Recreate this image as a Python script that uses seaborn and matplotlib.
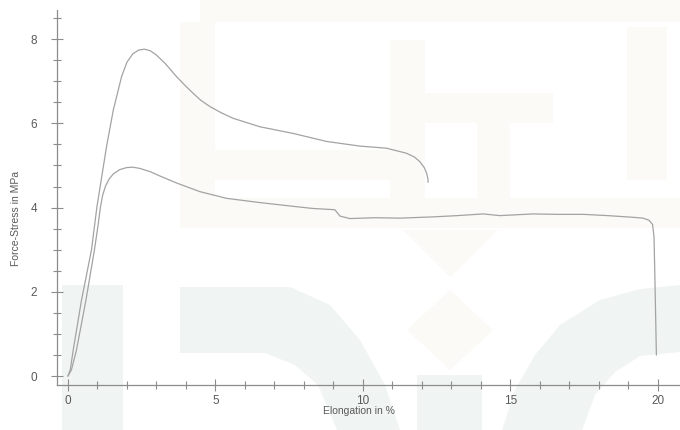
import matplotlib
matplotlib.use("Agg")
import matplotlib.pyplot as plt
from matplotlib.patches import Polygon
from matplotlib.ticker import MultipleLocator
import seaborn as sns
import pandas as pd

# Tensile test results: elongation (%) vs. force-stress (MPa) for two specimens
elong_a = [0, 0.08, 0.18, 0.46, 0.80, 0.98, 1.15, 1.31, 1.54, 1.82, 2.00, 2.20,
           2.40, 2.60, 2.80, 3.00, 3.30, 3.68, 4.00, 4.25, 4.50, 4.81, 5.20,
           5.60, 6.50, 7.64, 8.77, 9.90, 10.80, 11.48, 11.75, 11.93, 12.08,
           12.16, 12.20, 12.21]
stress_a = [0, 0.15, 0.62, 1.80, 3.00, 4.00, 4.75, 5.45, 6.32, 7.11, 7.45, 7.65,
            7.74, 7.76, 7.72, 7.62, 7.42, 7.11, 6.88, 6.71, 6.55, 6.40, 6.25,
            6.12, 5.92, 5.76, 5.57, 5.46, 5.41, 5.29, 5.20, 5.09, 4.95,
            4.82, 4.70, 4.60]

elong_b = [0, 0.12, 0.29, 0.61, 0.90, 1.03, 1.10, 1.18, 1.28, 1.40, 1.54, 1.75,
           1.99, 2.20, 2.44, 2.80, 3.12, 3.70, 4.47, 5.38, 6.50, 7.64, 8.30,
           9.05, 9.22, 9.56, 10.40, 11.25, 12.38, 13.20, 14.08, 14.64, 15.77,
           16.60, 17.47, 18.30, 19.16, 19.50, 19.70, 19.82, 19.87, 19.90, 19.95]
stress_b = [0, 0.15, 0.62, 1.80, 3.00, 3.62, 4.00, 4.30, 4.52, 4.68, 4.80, 4.90,
            4.95, 4.96, 4.93, 4.85, 4.75, 4.58, 4.38, 4.22, 4.12, 4.03, 3.98,
            3.95, 3.80, 3.74, 3.76, 3.75, 3.78, 3.81, 3.85, 3.81, 3.85,
            3.84, 3.84, 3.81, 3.77, 3.75, 3.70, 3.60, 3.30, 2.30, 0.50]

specimens = ["A", "B"]

x_label = "Elongation in %"
y_label = "Force-Stress in MPa"

df = pd.concat([
    pd.DataFrame({"elong": elong_a, "stress": stress_a, "specimen": specimens[0]}),
    pd.DataFrame({"elong": elong_b, "stress": stress_b, "specimen": specimens[1]}),
], ignore_index=True)

sns.set_theme(style="ticks")
plt.rcParams["font.family"] = ["Liberation Sans", "DejaVu Sans"]

W, H = 680, 430
fig = plt.figure(figsize=(W / 100, H / 100), dpi=100)
fig.patch.set_facecolor("white")

# faint background emblem (page watermark), in pixel coordinates from top-left
def px(points):
    return [(x / W, 1 - y / H) for x, y in points]

teal = "#f0f4f3"
beige = "#fbfaf7"
emblem = [
    (teal, [(62, 285), (123, 285), (123, 430), (62, 430)]),
    (teal, [(180, 287), (290, 287), (330, 305), (360, 340), (385, 385), (400, 430),
            (337, 430), (318, 385), (295, 365), (265, 353), (180, 353)]),
    (teal, [(417, 375), (482, 375), (482, 430), (417, 430)]),
    (teal, [(502, 430), (515, 390), (535, 355), (560, 325), (600, 300), (640, 289),
            (680, 285), (680, 352), (640, 356), (615, 372), (595, 395), (582, 430)]),
    (beige, [(180, 198), (680, 198), (680, 228), (180, 228)]),
    (beige, [(180, 22), (215, 22), (215, 198), (180, 198)]),
    (beige, [(215, 150), (420, 150), (420, 180), (215, 180)]),
    (beige, [(390, 40), (425, 40), (425, 198), (390, 198)]),
    (beige, [(425, 93), (553, 93), (553, 123), (425, 123)]),
    (beige, [(477, 123), (510, 123), (510, 198), (477, 198)]),
    (beige, [(627, 27), (667, 27), (667, 180), (627, 180)]),
    (beige, [(200, 0), (680, 0), (680, 22), (200, 22)]),
    (beige, [(403, 230), (498, 230), (450, 277)]),
    (beige, [(450, 290), (493, 330), (450, 370), (407, 330)]),
]
for color, pts in emblem:
    fig.add_artist(Polygon(px(pts), closed=True, facecolor=color, edgecolor="none",
                           transform=fig.transFigure, zorder=-5))

left, bottom = 57 / W, 1 - 385 / H
ax = fig.add_axes([left, bottom, 1 - left, (385 - 10) / H])
ax.patch.set_alpha(0)

sns.lineplot(data=df, x="elong", y="stress", units="specimen", estimator=None,
             sort=False, color="#a3a3a3", linewidth=0.9, ax=ax, legend=False)

ax.set_xlim(-0.37, 20.75)
ax.set_ylim(-0.21, 8.69)

ax.xaxis.set_major_locator(MultipleLocator(5))
ax.xaxis.set_minor_locator(MultipleLocator(1))
ax.yaxis.set_major_locator(MultipleLocator(2))
ax.yaxis.set_minor_locator(MultipleLocator(0.5))

axis_color = "#8c8c8c"
text_color = "#5a5a5a"
for side in ["top", "right"]:
    ax.spines[side].set_visible(False)
for side in ["left", "bottom"]:
    ax.spines[side].set_color(axis_color)
    ax.spines[side].set_linewidth(0.9)

ax.tick_params(which="major", direction="inout", length=9, width=0.8,
               color=axis_color, labelsize=8.5, labelcolor=text_color)
ax.tick_params(which="minor", direction="inout", length=6, width=0.8,
               color=axis_color)
ax.tick_params(axis="x", which="major", pad=2.5)
ax.tick_params(axis="y", which="major", pad=10)

ax.set_xlabel(x_label, fontsize=7.5, color=text_color)
ax.set_ylabel(y_label, fontsize=7.5, color=text_color)
ax.xaxis.set_label_coords(0.485, -0.056)
ax.yaxis.set_label_coords(-0.057, 0.443)

fig.savefig("out.png", dpi=100)
